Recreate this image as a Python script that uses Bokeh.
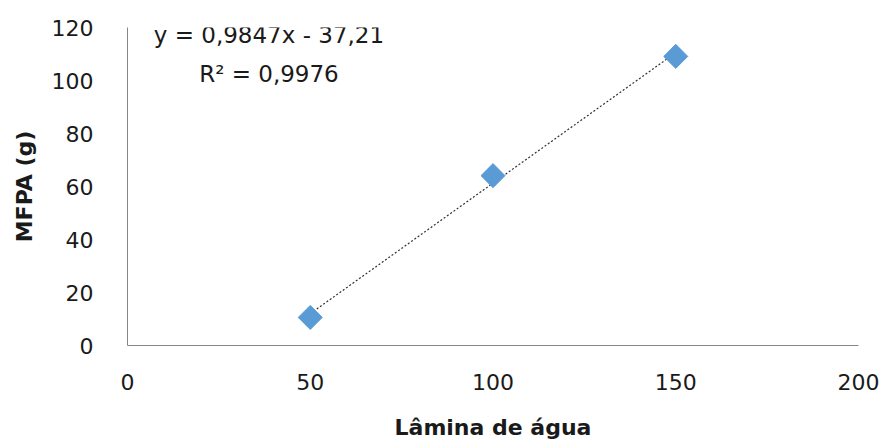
import numpy as np
from bokeh.plotting import figure
from bokeh.models import Range1d, ColumnDataSource, Label, FixedTicker
from bokeh.embed import file_html
from bokeh.resources import INLINE

lamina = [50, 100, 150]
mfpa = [10.6, 64.1, 109.1]
slope = 0.9847
intercept = -37.21
eq_text = "y = 0,9847x - 37,21"
r2_text = "R² = 0,9976"
x_ticks = [0, 50, 100, 150, 200]
y_ticks = [0, 20, 40, 60, 80, 100, 120]

FONT = "DejaVu Sans"

p = figure(width=884, height=443, output_backend="svg", toolbar_location=None,
           x_range=Range1d(0, 200), y_range=Range1d(0, 120),
           min_border_left=127, min_border_right=26, min_border_top=27, min_border_bottom=98)
p.frame_width = 731
p.frame_height = 318
p.outline_line_color = None
p.grid.visible = False
p.background_fill_color = "white"
p.border_fill_color = "white"

for ax in (p.xaxis[0], p.yaxis[0]):
    ax.axis_line_color = "#868686"
    ax.axis_line_width = 1
    ax.major_tick_line_color = None
    ax.minor_tick_line_color = None
    ax.major_label_text_font = FONT
    ax.major_label_text_font_size = "22px"
    ax.major_label_text_color = "#1a1a1a"
    ax.axis_label_text_font = FONT
    ax.axis_label_text_font_size = "22px"
    ax.axis_label_text_font_style = "bold"
    ax.axis_label_text_color = "#1a1a1a"

p.xaxis.ticker = FixedTicker(ticks=x_ticks)
p.yaxis.ticker = FixedTicker(ticks=y_ticks)
p.xaxis.major_label_standoff = 22
p.yaxis.major_label_standoff = 28
p.xaxis.axis_label = "Lâmina de água"
p.yaxis.axis_label = "MFPA (g)"
p.xaxis.axis_label_standoff = 22
p.yaxis.axis_label_standoff = 12

# trend line from the fitted equation
xt = np.array([min(lamina), max(lamina)], dtype=float)
yt = slope * xt + intercept
p.line(xt, yt, line_color="#303030", line_width=1.2, line_dash="2 2")

src = ColumnDataSource(dict(x=lamina, y=mfpa))
p.scatter("x", "y", source=src, marker="square", size=17, angle=np.pi / 4,
          fill_color="#5B9BD5", line_color="#5B9BD5")

p.add_layout(Label(x=38.7, y=117, text=eq_text, text_align="center", text_baseline="middle",
                   text_font=FONT, text_font_size="23px", text_color="#1a1a1a"))
p.add_layout(Label(x=38.7, y=102.6, text=r2_text, text_align="center", text_baseline="middle",
                   text_font=FONT, text_font_size="23px", text_color="#1a1a1a"))

open("out.html", "w").write(file_html(p, INLINE))
